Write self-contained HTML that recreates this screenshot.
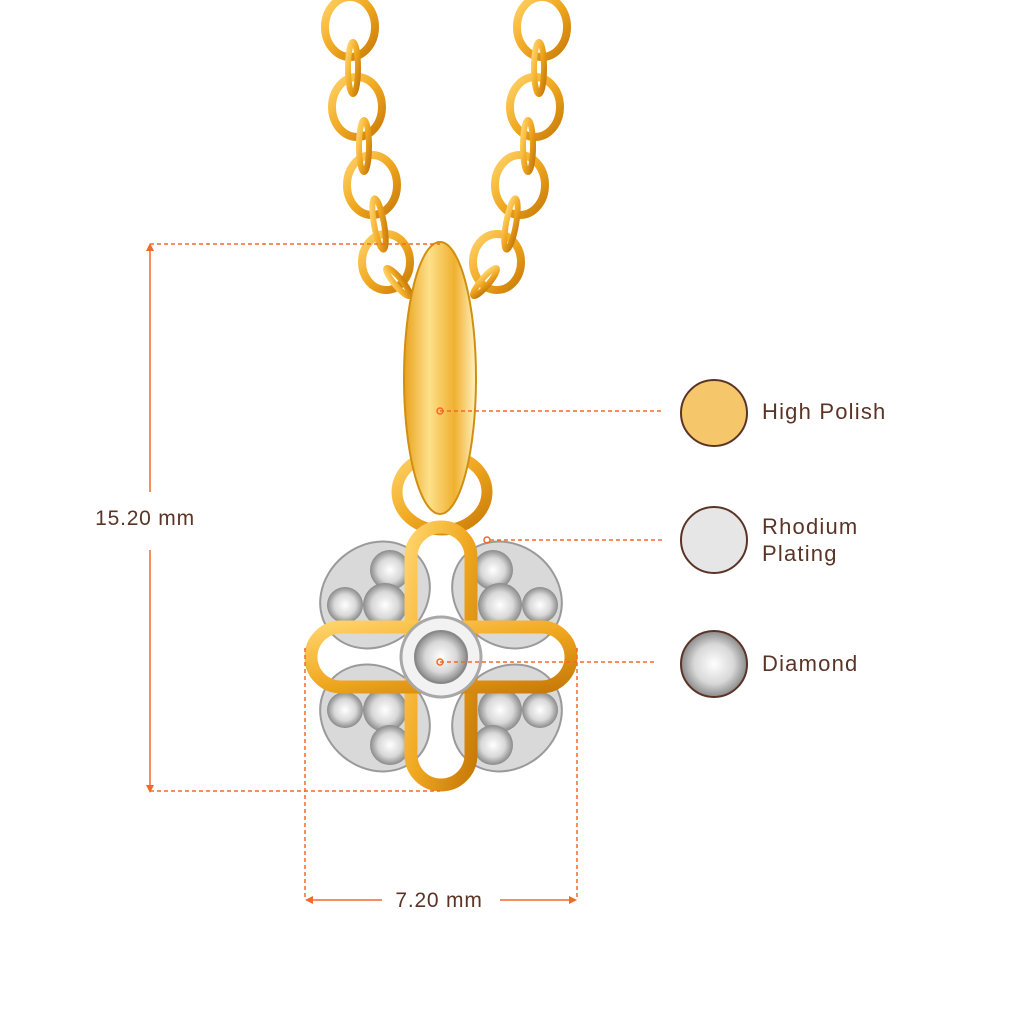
<!DOCTYPE html>
<html><head><style>html,body{margin:0;padding:0;background:#fff;}svg{display:block}</style></head>
<body>
<svg width="1024" height="1024" viewBox="0 0 1024 1024" xmlns="http://www.w3.org/2000/svg">
<defs>
<linearGradient id="g" x1="0" y1="0" x2="1" y2="1"><stop offset="0" stop-color="#ffd36a"/><stop offset="0.5" stop-color="#f0a820"/><stop offset="1" stop-color="#c87a08"/></linearGradient>
<linearGradient id="bail" x1="0" y1="0" x2="1" y2="0"><stop offset="0" stop-color="#e9a21c"/><stop offset="0.35" stop-color="#fde08a"/><stop offset="0.7" stop-color="#f0b030"/><stop offset="1" stop-color="#fff2c0"/></linearGradient>
<radialGradient id="dia"><stop offset="0" stop-color="#ffffff"/><stop offset="0.6" stop-color="#d8d8d8"/><stop offset="1" stop-color="#8a8a8a"/></radialGradient>
</defs>
<g fill="none" stroke="url(#g)" stroke-width="8">
<ellipse cx="350" cy="27" rx="25" ry="30"/><ellipse cx="357" cy="107" rx="25" ry="30"/><ellipse cx="372" cy="185" rx="25" ry="30"/><ellipse cx="386" cy="262" rx="24" ry="28"/>
<ellipse cx="542" cy="27" rx="25" ry="30"/><ellipse cx="535" cy="107" rx="25" ry="30"/><ellipse cx="520" cy="185" rx="25" ry="30"/><ellipse cx="497" cy="262" rx="24" ry="28"/>
<g stroke-width="6"><ellipse cx="353" cy="68" rx="5" ry="26"/><ellipse cx="364" cy="146" rx="5" ry="26"/><ellipse cx="379" cy="224" rx="5" ry="26" transform="rotate(-10 379 224)"/>
<ellipse cx="539" cy="68" rx="5" ry="26"/><ellipse cx="528" cy="146" rx="5" ry="26"/><ellipse cx="511" cy="224" rx="5" ry="26" transform="rotate(10 511 224)"/>
<ellipse cx="398" cy="282" rx="4" ry="18" transform="rotate(-40 398 282)"/><ellipse cx="485" cy="282" rx="4" ry="18" transform="rotate(40 485 282)"/></g>
<ellipse cx="442" cy="492" rx="45" ry="38" stroke-width="11"/>
</g>
<ellipse cx="440" cy="378" rx="36" ry="136" fill="url(#bail)" stroke="#d18f10" stroke-width="2"/>
<g>
<g fill="#d9d9d9" stroke="#9a9a9a" stroke-width="2">
<ellipse cx="375" cy="595" rx="58" ry="50" transform="rotate(-40 375 595)"/>
<ellipse cx="507" cy="595" rx="58" ry="50" transform="rotate(40 507 595)"/>
<ellipse cx="375" cy="718" rx="58" ry="50" transform="rotate(40 375 718)"/>
<ellipse cx="507" cy="718" rx="58" ry="50" transform="rotate(-40 507 718)"/>
</g>
<g fill="url(#dia)">
<circle cx="390" cy="570" r="20"/><circle cx="385" cy="605" r="22"/><circle cx="345" cy="605" r="18"/>
<circle cx="493" cy="570" r="20"/><circle cx="500" cy="605" r="22"/><circle cx="540" cy="605" r="18"/>
<circle cx="385" cy="710" r="22"/><circle cx="345" cy="710" r="18"/><circle cx="390" cy="745" r="20"/>
<circle cx="500" cy="710" r="22"/><circle cx="540" cy="710" r="18"/><circle cx="493" cy="745" r="20"/>
</g>
<g fill="none" stroke="url(#g)" stroke-width="13">
<rect x="411" y="527" width="60" height="258" rx="30"/>
<rect x="311" y="627" width="260" height="60" rx="30"/>
</g>
<circle cx="441" cy="657" r="40" fill="#f2f2f2" stroke="#a8a8a8" stroke-width="3"/>
<circle cx="441" cy="657" r="26" fill="url(#dia)" stroke="#888" stroke-width="2"/>
</g>
<g stroke="#f26a2a" stroke-width="1.5" fill="none">
<line x1="150" y1="248" x2="150" y2="492"/><line x1="150" y1="550" x2="150" y2="788"/>
<line x1="310" y1="900" x2="382" y2="900"/><line x1="500" y1="900" x2="572" y2="900"/>
<g stroke-dasharray="4,3">
<line x1="150" y1="244" x2="440" y2="244"/><line x1="150" y1="791" x2="440" y2="791"/>
<line x1="305" y1="648" x2="305" y2="900"/><line x1="577" y1="648" x2="577" y2="900"/>
<line x1="440" y1="411" x2="662" y2="411"/><line x1="490" y1="540" x2="662" y2="540"/><line x1="440" y1="662" x2="655" y2="662"/>
</g>
<circle cx="440" cy="411" r="3"/><circle cx="487" cy="540" r="3"/><circle cx="440" cy="662" r="3"/>
</g>
<g fill="#f26a2a"><path d="M150 243 l-4 8 h8z"/><path d="M150 793 l-4 -8 h8z"/><path d="M305 900 l8 -4 v8z"/><path d="M577 900 l-8 -4 v8z"/></g>
<g font-family="Liberation Sans, sans-serif" font-size="21" fill="#5a3426" letter-spacing="0.8">
<text x="145" y="525" text-anchor="middle">15.20 mm</text>
<text x="439" y="907" text-anchor="middle">7.20 mm</text>
<text x="762" y="419" font-size="22" letter-spacing="1.2">High Polish</text>
<text x="762" y="534" font-size="22" letter-spacing="1.2">Rhodium</text>
<text x="762" y="561" font-size="22" letter-spacing="1.2">Plating</text>
<text x="762" y="671" font-size="22" letter-spacing="1.2">Diamond</text>
</g>
<circle cx="714" cy="413" r="33" fill="#f6c76a" stroke="#5a3426" stroke-width="2"/>
<circle cx="714" cy="540" r="33" fill="#e6e6e6" stroke="#5a3426" stroke-width="2"/>
<circle cx="714" cy="664" r="33" fill="url(#dia)" stroke="#5a3426" stroke-width="2"/>
</svg>
</body></html>
